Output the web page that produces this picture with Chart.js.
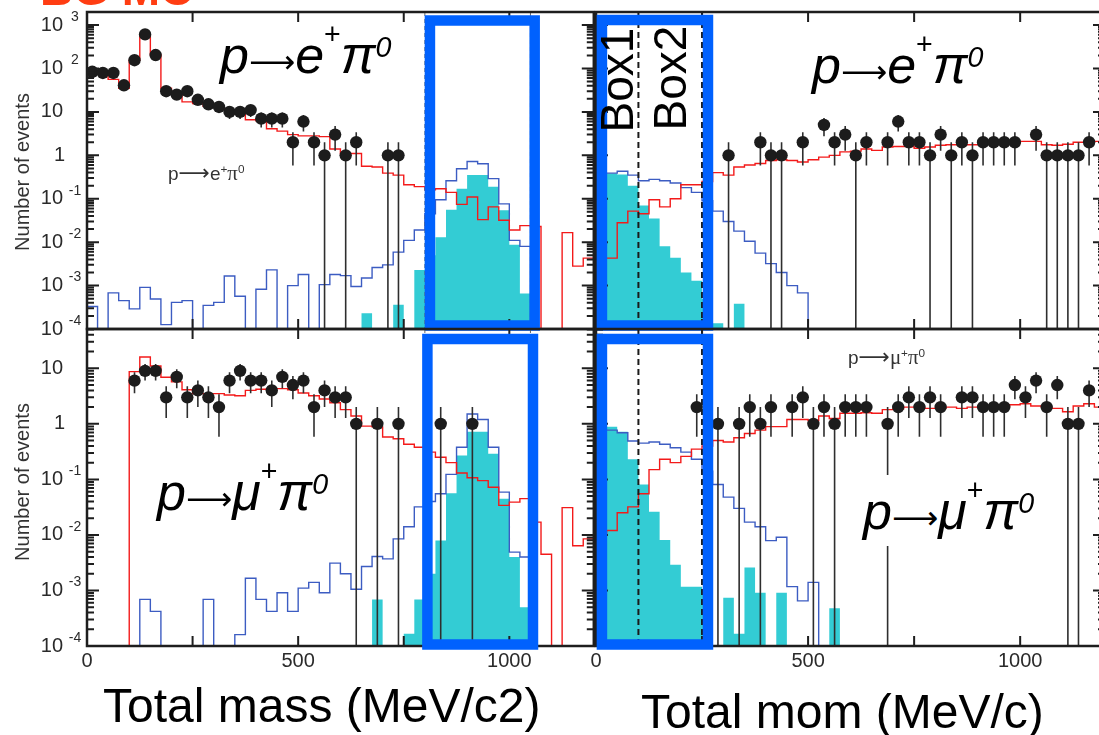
<!DOCTYPE html>
<html><head><meta charset="utf-8">
<script src="https://cdn.jsdelivr.net/npm/chart.js@4.4.1/dist/chart.umd.min.js"></script>
<style>
html,body{margin:0;padding:0;background:#fff;overflow:hidden;}
body{width:1099px;height:735px;position:relative;}
canvas{position:absolute;}
.t{position:absolute;white-space:nowrap;font-family:"Liberation Sans",Arial,Helvetica,sans-serif;}
.big{font-size:52px;line-height:52px;color:#000;}
.big i{font-style:italic;}
.big .arr{font-family:"DejaVu Sans",sans-serif;font-size:0.62em;font-style:normal;}
.big .s1{font-size:0.55em;position:relative;top:-1.0em;}
.big .s0{font-size:0.55em;position:relative;top:-0.55em;font-style:italic;}
.small{font-size:19px;line-height:19px;color:#333;}
.small .sa{font-family:"DejaVu Sans",sans-serif;font-size:1.15em;}
.small .sp{font-size:0.62em;position:relative;top:-0.6em;}
.small .g{font-family:"Liberation Serif","Times New Roman",serif;font-size:1.1em;}
.rot{transform:translate(-50%,-50%) rotate(-90deg);transform-origin:50% 50%;}
.ytitle{font-size:20px;line-height:20px;color:#333;}
.xtitle{font-size:48px;line-height:48px;color:#000;}
.box{font-size:46px;line-height:46px;color:#000;}
</style></head><body>
<canvas id="tl" width="600" height="345" style="left:0;top:0"></canvas>
<canvas id="bl" width="600" height="415" style="left:0;top:320px"></canvas>
<canvas id="tr" width="540" height="345" style="left:580px;top:0"></canvas>
<canvas id="br" width="540" height="415" style="left:580px;top:320px"></canvas>

<div class="t" style="left:40px;top:-34px;font-size:46px;line-height:46px;font-weight:bold;color:#ff3d12;">BG MC</div>

<div class="t big" style="left:220px;top:29px"><i>p</i><span class="arr">⟶</span><i>e</i><span class="s1">+</span><i>π</i><span class="s0">0</span></div>
<div class="t big" style="left:812px;top:39px"><i>p</i><span class="arr">⟶</span><i>e</i><span class="s1">+</span><i>π</i><span class="s0">0</span></div>
<div class="t big" style="left:157px;top:466px"><i>p</i><span class="arr">⟶</span><i>μ</i><span class="s1">+</span><i>π</i><span class="s0">0</span></div>
<div class="t big" style="left:861px;top:475px;padding:10px 2px 1px 2px;background:#fff"><i>p</i><span class="arr">⟶</span><i>μ</i><span class="s1">+</span><i>π</i><span class="s0">0</span></div>

<div class="t small" style="left:168px;top:163px">p<span class="sa">⟶</span>e<span class="sp">+</span><span class="g">π</span><span class="sp">0</span></div>
<div class="t small" style="left:848px;top:347px">p<span class="sa">⟶</span><span class="g">μ</span><span class="sp">+</span><span class="g">π</span><span class="sp">0</span></div>

<div class="t box rot" style="left:617px;top:80px">Box1</div>
<div class="t box rot" style="left:670px;top:78px">Box2</div>

<div class="t ytitle rot" style="left:22px;top:172px">Number of events</div>
<div class="t ytitle rot" style="left:22px;top:482px">Number of events</div>

<div class="t xtitle" style="left:103px;top:682px">Total mass (MeV/c2)</div>
<div class="t xtitle" style="left:641px;top:688px">Total mom (MeV/c)</div>

<script>
const FONT = '"Liberation Sans", Arial, Helvetica, sans-serif';
const BIN = 25, X_MIN = 0, X_MAX = 1200, TINY = 1e-8;
const binLeftEdges = Array.from({length: 48}, (_, i) => i * BIN);
const binCentres = binLeftEdges.map(e => e + BIN / 2);

// tick labels
const xTickValues = [0, 500, 1000];
const xTickLabels = ['0', '500', '1000'];
const xTickMarks  = [0, 250, 500, 750, 1000];
const yTickValues = [1e-4, 1e-3, 1e-2, 1e-1, 1, 10, 100, 1000];
const yTickBase   = ['10', '10', '10', '10', '1', '10', '10', '10'];
const yTickExp    = ['-4', '-3', '-2', '-1', '', '', '2', '3'];

// ---- p -> e+ pi0 : total mass ----
const massEpi0Data = [84,79,79,41,155,610,204,30,25,30, 19,15,13,10,10,11,7,7,7,2, 6,2,1,3,1,2,0,0,1,1, 0,0,0,0,0,0,0,0,0,0, 0,0,0,0,0,0,0,0];
const massEpi0Red  = [84,84,56,35,155,580,204,35,26,17, 15.5,13.5,13,11,9.1,6.6,6.2,4.1,3.6,3.0, 2.8,2.8,2.7,1.4,1.1,1.1,0.56,0.54,0.39,0.35, 0.21,0.19,0.16,0.17,0.14,0.074,0.11,0.033,0.065,0.032, 0.019,0.024,0.023,0,0,0.0166,0.0028,0.0043];
const massEpi0Blue = [3.3e-4,0,6.8e-4,4.5e-4,2.9e-4,9.1e-4,4.9e-4,1.26e-4,4.1e-4,4.5e-4, 0,3.5e-4,4.1e-4,1.66e-3,5.7e-4,0,8.2e-4,2.3e-3,0,1.0e-3, 1.8e-3,0,1.05e-3,1.8e-3,1.7e-3,9.5e-4,1.5e-3,2.6e-3,3.0e-3,5.9e-3, 0.011,0.019,0.045,0.095,0.26,0.49,0.72,0.64,0.29,0.076, 0.011,0.008,0,0,0,0,0,0];
const massEpi0Cyan = [0,0,0,0,0,0,0,0,0,0, 0,0,0,0,0,0,0,0,0,0, 0,0,0,0,0,0,2.3e-4,0,0,3.6e-4, 0,2.3e-3,0.005,0.013,0.056,0.17,0.35,0.35,0.19,0.054, 0.0087,6.6e-4,0,0,0,0,0,0];

// ---- p -> e+ pi0 : total momentum ----
const momEpi0Data = [0,0,0,0,0,0,0,0,0,0, 0,0,1,0,0,2,1,1,0,2, 0,5,2,3,1,2,0,2,6,2, 2,1,3,1,2,1,2,2,2,2, 0,3,1,1,1,1,2,0];
const momEpi0Red  = [0.0043,0.0043,0.028,0.052,0.045,0.095,0.065,0.1,0.21,0.21, 0.25,0.4,0.35,0.54,0.6,0.65,0.76,0.79,0.76,0.7, 0.79,0.91,1.0,1.2,1.25,1.4,1.3,1.55,1.6,1.6, 1.45,1.55,1.7,1.75,1.75,1.75,1.8,1.8,1.8,1.9, 2.1,2.1,1.75,1.7,1.8,2.0,2.0,2.1];
const momEpi0Blue = [0.39,0.39,0.43,0.35,0.26,0.28,0.26,0.23,0.18,0.14, 0.09,0.052,0.03,0.018,0.0105,0.0056,0.0032,0.002,1.0e-3,6.8e-4, 0,0,0,0,0,0,0,0,0,0, 0,0,0,0,0,0,0,0,0,0, 0,0,0,0,0,0,0,0];
const momEpi0Cyan = [0.35,0.38,0.36,0.2,0.07,0.035,0.008,0.0044,0.002,0.0013, 5e-4,1.35e-4,0,3.8e-4,0,0,0,0,0,0, 0,0,0,0,0,0,0,0,0,0, 0,0,0,0,0,0,0,0,0,0, 0,0,0,0,0,0,0,0];

// ---- p -> mu+ pi0 : total mass ----
const massMupi0Data = [0,0,0,0,6,9,9,3,7,3, 4,3,2,6,9,6,6,4,7,5, 6,2,4,3,3,1,0,1,0,1, 0,0,0,1,0,0,1,0,0,0, 0,0,0,0,0,0,0,0];
const massMupi0Red  = [0,0,0,0,8.7,16,11,6.9,5.7,4.1, 3.5,3.5,3.5,3.3,3.2,4.0,4.2,4.3,4.3,4.1, 3.6,3.2,2.8,2.4,1.8,1.38,0.91,0.88,0.58,0.54, 0.43,0.38,0.31,0.25,0.2,0.13,0.107,0.095,0.072,0.034, 0.039,0.045,0.017,0.0045,0,0.031,0.0064,0.0085];
const massMupi0Blue = [0,0,0,0,0,6.9e-4,4.2e-4,0,0,0, 0,6.9e-4,0,0,1.6e-4,1.66e-3,6.9e-4,4.2e-4,9.1e-4,4.2e-4, 1.1e-3,1.4e-3,9.1e-4,3.1e-3,2.0e-3,1.05e-3,2.7e-3,4.1e-3,3.7e-3,8.5e-3, 0.014,0.032,0.04,0.055,0.123,0.38,1.5,1.2,0.38,0.059, 4.9e-3,4e-3,0,0,0,0,0,0];
const massMupi0Cyan = [0,0,0,0,0,0,0,0,0,0, 0,0,0,0,0,0,0,0,0,0, 0,0,0,0,0,0,0,6.9e-4,0,0, 1.66e-4,6.9e-4,2e-3,7.9e-3,0.056,0.27,0.72,0.72,0.29,0.045, 0.004,5e-4,0,0,0,0,0,0];

// ---- p -> mu+ pi0 : total momentum ----
const momMupi0Data = [0,0,0,0,0,0,0,0,0,2, 0,1,0,1,2,1,2,0,2,3, 1,2,1,2,2,2,0,1,2,3, 2,3,2,0,3,3,2,2,2,5, 3,6,2,5,1,1,4,0];
const momMupi0Red  = [0.01,0.012,0.025,0.032,0.055,0.15,0.23,0.2,0.26,0.35, 0.4,0.5,0.47,0.56,0.67,0.77,0.89,0.89,1.2,1.2, 1.15,1.38,1.25,1.55,1.55,1.58,1.55,1.8,1.85,2.0, 2.0,1.9,1.9,2.0,1.9,2.0,2.0,1.9,2.0,2.2, 2.3,2.1,2.0,1.9,1.65,2.1,2.3,2.0];
const momMupi0Blue = [0.77,0.77,0.69,0.49,0.45,0.47,0.43,0.37,0.31,0.23, 0.14,0.081,0.048,0.03,0.017,0.014,7.9e-3,9.1e-3,1.17e-3,6.5e-4, 1.4e-3,0,0,0,0,0,0,0,0,0, 0,0,0,0,0,0,0,0,0,0, 0,0,0,0,0,0,0,0];
const momMupi0Cyan = [0.9,0.89,0.72,0.23,0.081,0.026,8.1e-3,2.9e-3,1.17e-3,1.17e-3, 1e-3,0,7.4e-4,1.66e-4,2.6e-3,9.1e-4,0,9.1e-4,0,0, 0,0,4.8e-4,0,0,0,0,0,0,0, 0,0,0,0,0,0,0,0,0,0, 0,0,0,0,0,0,0,0];

function stepPoints(vals) {
  const pts = [{x: X_MIN, y: TINY}];
  vals.forEach((v, i) => pts.push({x: binLeftEdges[i], y: v > 0 ? v : TINY}));
  const last = vals[vals.length - 1];
  pts.push({x: X_MAX, y: last > 0 ? last : TINY});
  return pts;
}
function dataPoints(counts) {
  const out = [];
  counts.forEach((n, i) => { if (n > 0) out.push({x: binCentres[i], y: n}); });
  return out;
}
function errPoints(counts) {
  const out = [];
  counts.forEach((n, i) => {
    if (n > 0) {
      const e = Math.sqrt(n);
      out.push({x: binCentres[i], y: Math.max(n - e, TINY)}, {x: binCentres[i], y: n + e}, {x: binCentres[i], y: null});
    }
  });
  return out;
}

const panelPlugin = {
  id: 'panel',
  afterDraw(chart, args, o) {
    const ctx = chart.ctx, a = chart.chartArea, x = chart.scales.x, y = chart.scales.y;
    ctx.save();
    (o.dashes || []).forEach(d => {
      ctx.setLineDash(d.dash); ctx.strokeStyle = d.color; ctx.lineWidth = d.width;
      const px = x.getPixelForValue(d.x);
      ctx.beginPath(); ctx.moveTo(px, a.top); ctx.lineTo(px, a.bottom); ctx.stroke();
    });
    ctx.setLineDash([]);
    ctx.strokeStyle = '#1e1e1e'; ctx.lineWidth = 2.5;
    ctx.strokeRect(a.left, a.top, a.right - a.left, a.bottom - a.top);
    ctx.lineWidth = 2;
    for (let d = -4; d <= 3; d++) {
      for (let m = 1; m <= 9; m++) {
        const v = m * Math.pow(10, d);
        if (v < y.min * 0.999 || v > y.max * 1.001) continue;
        const py = y.getPixelForValue(v), len = m === 1 ? 12 : 7;
        ctx.beginPath();
        ctx.moveTo(a.left, py); ctx.lineTo(a.left + len, py);
        ctx.moveTo(a.right, py); ctx.lineTo(a.right - len, py);
        ctx.stroke();
      }
    }
    xTickMarks.forEach(v => {
      const px = x.getPixelForValue(v);
      ctx.beginPath();
      ctx.moveTo(px, a.bottom); ctx.lineTo(px, a.bottom - 10);
      ctx.moveTo(px, a.top); ctx.lineTo(px, a.top + 10);
      ctx.stroke();
    });
    ctx.fillStyle = '#2a2a2a';
    if (o.yLabels) {
      ctx.textBaseline = 'middle';
      yTickValues.forEach((v, i) => {
        if (v < y.min * 0.999 || v > y.max * 1.001) return;
        const py = y.getPixelForValue(v);
        ctx.font = '20px ' + FONT; ctx.textAlign = 'right';
        ctx.fillText(yTickBase[i], a.left - (yTickBase[i] === '1' ? 22 : 24), py);
        if (yTickExp[i]) {
          ctx.font = '14px ' + FONT; ctx.textAlign = 'center';
          ctx.fillText(yTickExp[i], a.left - 12, py - 8);
        }
      });
    }
    if (o.xLabels) {
      ctx.font = '20px ' + FONT; ctx.textAlign = 'center'; ctx.textBaseline = 'middle';
      xTickValues.forEach((v, i) => ctx.fillText(xTickLabels[i], x.getPixelForValue(v), a.bottom + 15));
    }
    if (o.box) {
      const b = o.box;
      const x0 = x.getPixelForValue(b.x0), x1 = x.getPixelForValue(b.x1);
      ctx.strokeStyle = '#0061fe'; ctx.lineWidth = 10.5;
      ctx.strokeRect(x0, a.top + b.top, x1 - x0, (a.bottom + b.bottom) - (a.top + b.top));
    }
    ctx.restore();
  }
};
Chart.register(panelPlugin);

function makePanel(id, p) {
  const ds = [
    {label: 'data', data: dataPoints(p.data), showLine: false, pointRadius: 6.2, pointHoverRadius: 6.2,
     pointBackgroundColor: '#1c1c1c', pointBorderColor: '#1c1c1c', pointBorderWidth: 0, order: 0},
    {label: 'err', data: errPoints(p.data), borderColor: '#2e2e2e', borderWidth: 1.6, pointRadius: 0, spanGaps: false, order: 1},
    {label: 'bgRed', data: stepPoints(p.red), stepped: 'before', borderColor: '#f31a1a', borderWidth: 1.4, pointRadius: 0, fill: false, order: 2},
    {label: 'bgBlue', data: stepPoints(p.blue), stepped: 'before', borderColor: '#3c5cc2', borderWidth: 1.4, pointRadius: 0, fill: false, order: 3},
    {label: 'signal', data: stepPoints(p.cyan), stepped: 'before', borderWidth: 0, borderColor: 'rgba(0,0,0,0)',
     backgroundColor: '#33ccd4', fill: 'start', pointRadius: 0, order: 4}
  ];
  return new Chart(document.getElementById(id), {
    type: 'line',
    data: {datasets: ds},
    options: {
      responsive: false, animation: false, devicePixelRatio: 1, events: [],
      layout: {padding: p.pad},
      scales: {
        x: {type: 'linear', min: X_MIN, max: X_MAX, display: false},
        y: {type: 'logarithmic', min: 1e-4, max: p.yMax, display: false}
      },
      plugins: {legend: {display: false}, tooltip: {enabled: false},
                panel: {yLabels: p.yLabels, xLabels: p.xLabels, dashes: p.dashes, box: p.box}}
    }
  });
}

const massDashes = [{x: 800, dash: [4, 3], color: '#666', width: 1}, {x: 1050, dash: [4, 3], color: '#666', width: 1}];
const momDashes = [{x: 100, dash: [6, 4], color: '#1a1a1a', width: 2}, {x: 250, dash: [6, 4], color: '#1a1a1a', width: 2}];

makePanel('tl', {data: massEpi0Data, red: massEpi0Red, blue: massEpi0Blue, cyan: massEpi0Cyan,
  pad: {left: 87, top: 12, right: 5, bottom: 16}, yMax: 2000, xLabels: false, yLabels: true,
  dashes: massDashes, box: {x0: 812, x1: 1060, top: 8.5, bottom: -3.5}});
makePanel('tr', {data: momEpi0Data, red: momEpi0Red, blue: momEpi0Blue, cyan: momEpi0Cyan,
  pad: {left: 16, top: 12, right: 15, bottom: 16}, yMax: 2000, xLabels: false, yLabels: false,
  dashes: momDashes, box: {x0: 14, x1: 264, top: 8, bottom: -3.5}});
makePanel('bl', {data: massMupi0Data, red: massMupi0Red, blue: massMupi0Blue, cyan: massMupi0Cyan,
  pad: {left: 87, top: 9, right: 5, bottom: 89}, yMax: 51, xLabels: true, yLabels: true,
  dashes: massDashes, box: {x0: 806, x1: 1056, top: 10, bottom: -1.5}});
makePanel('br', {data: momMupi0Data, red: momMupi0Red, blue: momMupi0Blue, cyan: momMupi0Cyan,
  pad: {left: 16, top: 9, right: 15, bottom: 89}, yMax: 51, xLabels: true, yLabels: false,
  dashes: momDashes, box: {x0: 14, x1: 264, top: 10, bottom: -1.5}});
</script>
</body></html>
